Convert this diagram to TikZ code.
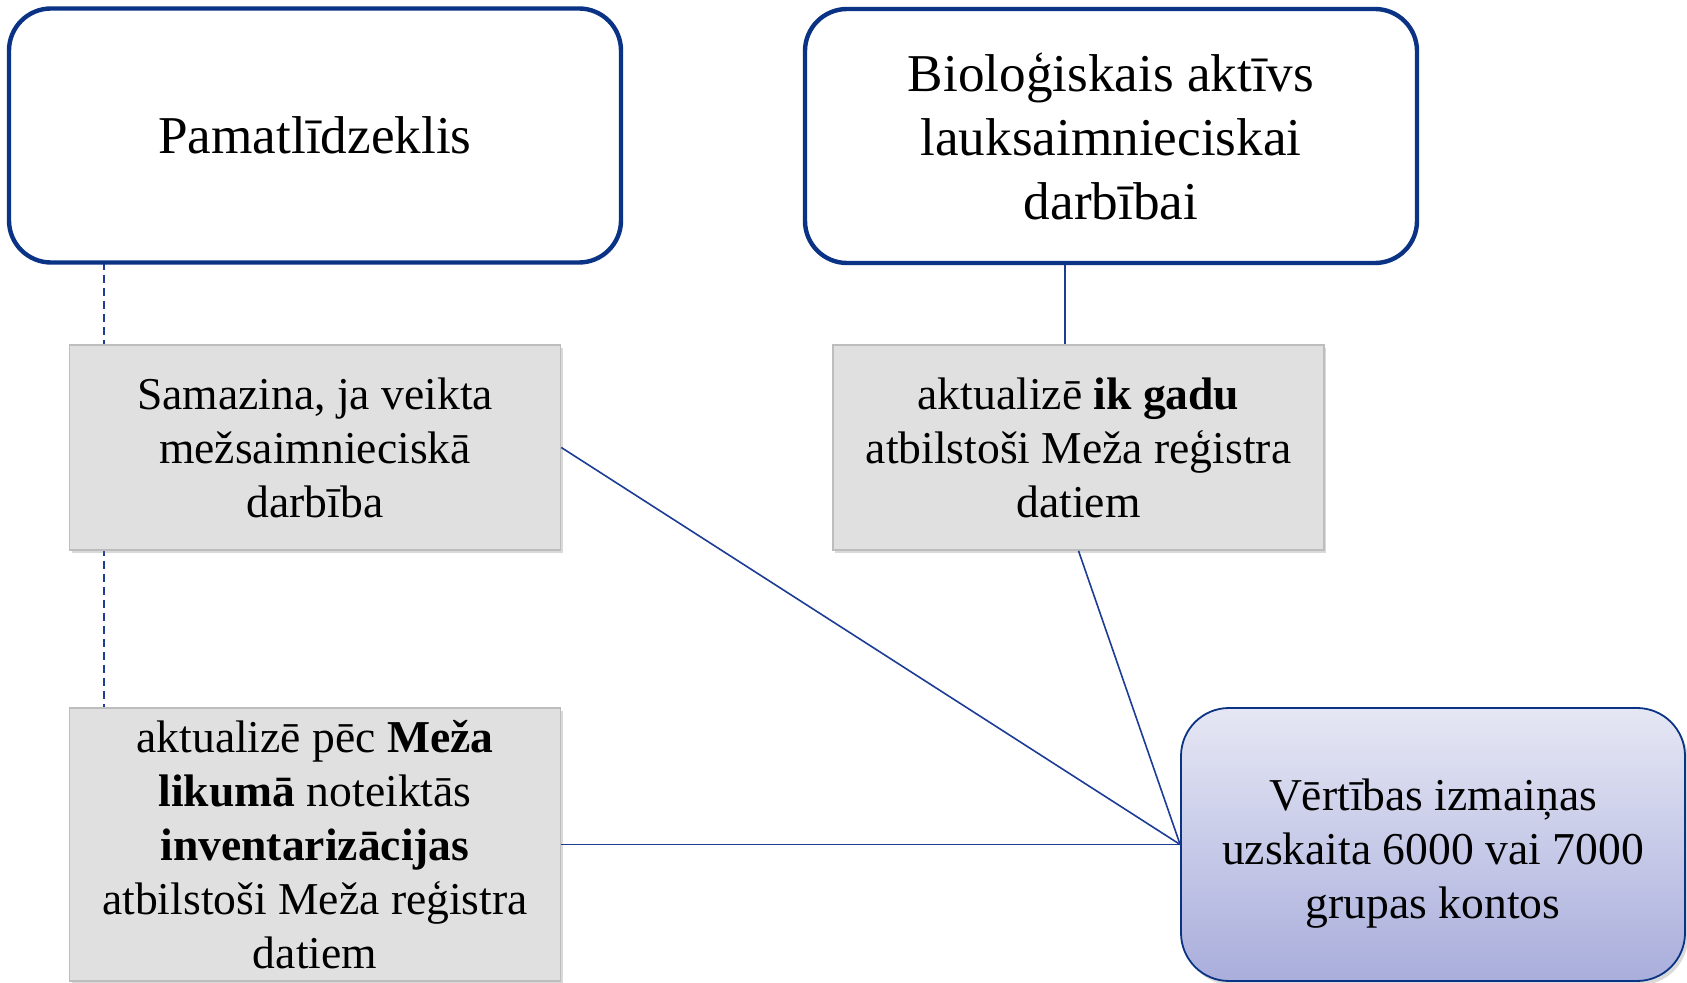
\documentclass[tikz,border=0pt]{standalone}
\usepackage{fontspec}
\setmainfont{Liberation Serif}
\usepackage{xcolor}
\definecolor{navyline}{HTML}{0B3385}
\definecolor{linkblue}{HTML}{1C3C96}
\definecolor{panelgrey}{HTML}{E0E0E0}
\definecolor{panelrule}{HTML}{BDBDBD}
\definecolor{lilactop}{HTML}{E6E7F4}
\definecolor{lilacbot}{HTML}{A9AEDC}
\usetikzlibrary{shadows}

\begin{document}
\begin{tikzpicture}[x=0.5pt, y=-0.5pt, align=center]

%\draw[step=50] (0,0) grid (1687,983);
\useasboundingbox (0,0) rectangle (1687,983);

\tikzstyle{head}=[
	rectangle,
	rounded corners=21pt,
	draw=navyline,
	line width=2.2pt,
	fill=white,
	minimum width=306pt,
	minimum height=127pt,
	inner sep=0pt,
	font=\fontsize{26.6}{32}\selectfont
]
\tikzstyle{panel}=[
	rectangle,
	draw=panelrule,
	line width=0.8pt,
	fill=panelgrey,
	minimum width=245.5pt,
	minimum height=102.5pt,
	inner sep=0pt,
	drop shadow={shadow xshift=1.2pt, shadow yshift=-1.5pt, opacity=0.3},
	font=\fontsize{22.8}{27}\selectfont
]
\tikzstyle{result}=[
	rectangle,
	rounded corners=24pt,
	draw=navyline,
	line width=0.9pt,
	top color=lilactop,
	bottom color=lilacbot,
	minimum width=252pt,
	minimum height=136.5pt,
	inner sep=0pt,
	drop shadow={shadow xshift=1.5pt, shadow yshift=-2pt, opacity=0.3},
	font=\fontsize{22.8}{27}\selectfont
]
\tikzstyle{link}=[draw=linkblue, line width=0.8pt]
\tikzstyle{dashlink}=[link, dash pattern=on 4pt off 2.5pt]

% dashed guide behind the first panel
\coordinate (dashtop) at (104, 262);
\coordinate (dashbot) at (104, 708);
\draw[dashlink] (dashtop) -- (dashbot);

\node[head] (asset) at (315, 135.5) {Pamatlīdzeklis};
\node[head] (bio) at (1111, 136)
	{Bioloģiskais aktīvs\\lauksaimnieciskai\\darbībai};

\node[panel] (cut) at (315, 447.5)
	{Samazina, ja veikta\\mežsaimnieciskā\\darbība};
\node[panel] (yearly) at (1078.5, 447.5)
	{aktualizē \textbf{ik gadu}\\atbilstoši Meža reģistra\\datiem};
\node[panel, minimum height=136.5pt] (inv) at (315, 844.5)
	{aktualizē pēc \textbf{Meža}\\\textbf{likumā} noteiktās\\\textbf{inventarizācijas}\\atbilstoši Meža reģistra\\datiem};

\node[result, text height=79pt] (value) at (1433, 844.5)
	{Vērtības izmaiņas\\uzskaita 6000 vai 7000\\grupas kontos};

\coordinate (biolink) at (1065, 300);
\draw[link] (biolink |- bio.south) -- (biolink |- yearly.north);

\draw[link] (cut.east) -- (value.west);
\draw[link] (yearly.south) -- (value.west);
\draw[link] (inv.east) -- (value.west);

\end{tikzpicture}
\end{document}
